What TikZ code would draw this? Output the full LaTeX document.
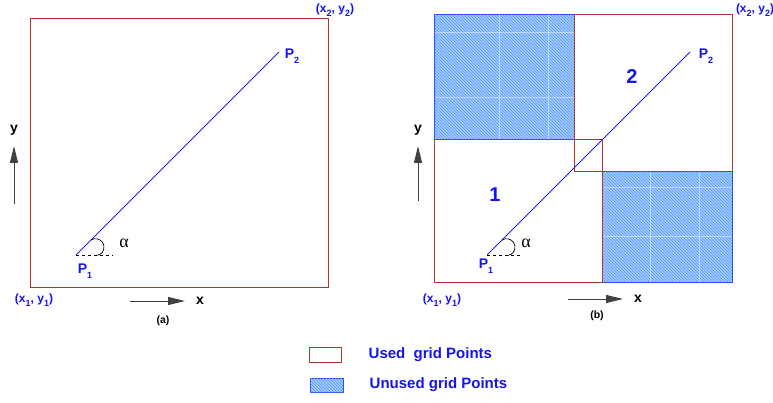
\documentclass[tikz,border=0pt]{standalone}
\usepackage{fontspec}
\setmainfont{Liberation Sans}
\newfontfamily\greekfont{Liberation Serif}
\usetikzlibrary{arrows.meta,patterns,positioning}
\definecolor{gridred}{HTML}{B03434}
\definecolor{rayblue}{HTML}{2424EE}
\definecolor{labelblue}{HTML}{1414F0}
\definecolor{hatchfill}{HTML}{A2D2FF}
\definecolor{hatchline}{HTML}{5A8CFF}
\definecolor{hatchedge}{HTML}{2A50FF}
\newcommand{\lowsub}[1]{\raisebox{-0.6ex}{\fontsize{9}{9}\selectfont #1}}

\begin{document}
\begin{tikzpicture}[
  x=1pt, y=-1pt,
  every node/.style={font=\bfseries\fontsize{14}{16}\selectfont, labelblue, inner sep=1pt},
  frame/.style={draw=gridred, line width=1pt},
  unused/.style={fill=hatchfill, postaction={pattern=north west lines, pattern color=hatchline}},
  unusededge/.style={draw=hatchedge, line width=1pt},
  tile/.style={white, opacity=0.45, line width=0.6pt},
  ray/.style={rayblue, line width=0.8pt},
  base/.style={black, dashed, line width=0.6pt},
  angarc/.style={black, line width=0.7pt},
  axis/.style={black!75, line width=1pt, -{Triangle[length=17pt, width=8pt]}},
  axlabel/.style={font=\bfseries\fontsize{14}{16}\selectfont, black},
  anglabel/.style={font=\greekfont\fontsize{18}{20}\selectfont, black},
  corner/.style={font=\bfseries\fontsize{12}{14}\selectfont},
  caption/.style={font=\bfseries\fontsize{10.5}{12}\selectfont, black},
  region/.style={font=\bfseries\fontsize{20}{22}\selectfont},
  keytext/.style={font=\bfseries\fontsize{15}{17}\selectfont, anchor=west}
]
\useasboundingbox (0,0) rectangle (773,403);

%% ==== (a): whole box ===============================================
\begin{scope}

  \draw[frame] (30,19) rectangle (328,287);

  \coordinate (a-p1) at (76,255);
  \coordinate (a-p2) at (279,52);
  \coordinate (a-base) at (113,255);
  \coordinate (a-arc) at (91,240);
  \draw[ray] (a-p1) -- (a-p2);
  \draw[base] (a-p1) -- (a-base);
  \draw[angarc] (a-arc) arc[start angle=122, end angle=-90, radius=8.5pt];

  \node (a-lab1) at (85,271) {P\lowsub{1}};
  \node (a-lab2) at (292,56) {P\lowsub{2}};
  \node[anglabel] (a-alpha) at (124,243) {α};
  \node[corner] (a-c1) at (34,300) {(x\lowsub{1}, y\lowsub{1})};
  \node[corner] (a-c2) at (335,10) {(x\lowsub{2}, y\lowsub{2})};

  \coordinate (a-x0) at (130,301);
  \coordinate (a-x1) at (185,301);
  \draw[axis] (a-x0) -- (a-x1);
  \node[axlabel, right=10pt of a-x1] (a-xlab) {x};

  \coordinate (a-y0) at (14,204);
  \coordinate (a-y1) at (14,146);
  \draw[axis] (a-y0) -- (a-y1);
  \node[axlabel, above=9pt of a-y1] (a-ylab) {y};

  \node[caption] (a-cap) at (163,321) {(a)};

\end{scope}

%% ==== (b): box split in two =========================================
\begin{scope}

  % unused blocks
  \path[unused] (434,15) rectangle (574,140);
  \path[unused] (602,172) rectangle (732,282);
  \foreach \gx in {499,548}
    \draw[tile] (\gx,15) -- (\gx,140);
  \foreach \gy in {32,97}
    \draw[tile] (434,\gy) -- (574,\gy);
  \foreach \gx in {650,699}
    \draw[tile] (\gx,172) -- (\gx,282);
  \foreach \gy in {187,236}
    \draw[tile] (602,\gy) -- (732,\gy);
  \draw[unusededge] (434,15) rectangle (574,140);
  \draw[unusededge] (602,172) rectangle (732,282);

  % used blocks
  \draw[frame] (434,140) rectangle (602,282);
  \draw[frame] (574,15) rectangle (732,172);

  \coordinate (b-p1) at (487,255);
  \coordinate (b-p2) at (690,52);
  \coordinate (b-base) at (523,255);
  \coordinate (b-arc) at (502,240);
  \draw[ray] (b-p1) -- (b-p2);
  \draw[base] (b-p1) -- (b-base);
  \draw[angarc] (b-arc) arc[start angle=122, end angle=-90, radius=8.5pt];

  \node (b-lab1) at (486,266) {P\lowsub{1}};
  \node (b-lab2) at (706,56) {P\lowsub{2}};
  \node[anglabel] (b-alpha) at (526,243) {α};
  \node[corner] (b-c1) at (442,300) {(x\lowsub{1}, y\lowsub{1})};
  \node[corner] (b-c2) at (755,10) {(x\lowsub{2}, y\lowsub{2})};
  \node[region] (b-one) at (495,195) {1};
  \node[region] (b-two) at (632,77) {2};

  \coordinate (b-x0) at (568,299);
  \coordinate (b-x1) at (623,299);
  \draw[axis] (b-x0) -- (b-x1);
  \node[axlabel, right=10pt of b-x1] (b-xlab) {x};

  \coordinate (b-y0) at (418,201);
  \coordinate (b-y1) at (418,146);
  \draw[axis] (b-y0) -- (b-y1);
  \node[axlabel, above=9pt of b-y1] (b-ylab) {y};

  \node[caption] (b-cap) at (597,316) {(b)};

\end{scope}

%% ==== legend ========================================================
\node[frame, minimum width=32pt, minimum height=15pt, inner sep=0pt] (usedkey) at (325,355) {};
\node[keytext, right=26pt of usedkey] (usedtext) {Used\ \ grid Points};
\node[unused, unusededge, minimum width=33pt, minimum height=14pt, inner sep=0pt] (unusedkey) at (326.5,385) {};
\node[keytext, right=25pt of unusedkey] (unusedtext) {Unused grid Points};

\end{tikzpicture}
\end{document}
